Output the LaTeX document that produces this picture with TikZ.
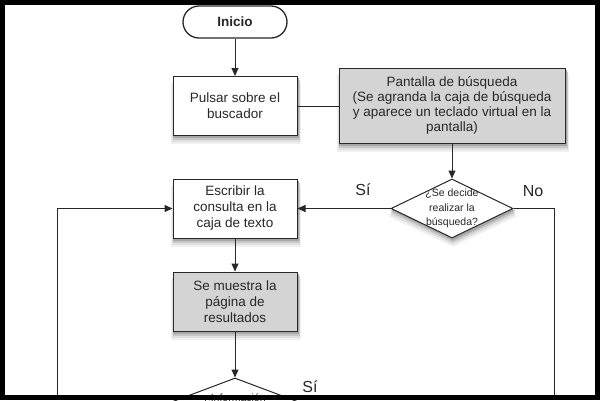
\documentclass[tikz,border=0pt]{standalone}
\usepackage{fontspec}
\setmainfont{Liberation Sans}
\usetikzlibrary{shapes.geometric,arrows.meta,backgrounds}
\definecolor{boxgray}{RGB}{212,212,212}
\definecolor{inkc}{RGB}{40,40,40}
\begin{document}
\begin{tikzpicture}[x=1pt,y=-1pt,
  every node/.style={font=\fontsize{13.5}{16}\selectfont, text=inkc},
  proc/.style={draw=inkc, line width=1pt, fill=white, minimum width=124pt, minimum height=59pt, align=center, inner sep=2pt},
  grayproc/.style={proc, fill=boxgray},
  term/.style={draw=inkc, line width=1.3pt, fill=white, rounded corners=16pt, minimum width=104pt, minimum height=32pt, font=\bfseries\fontsize{13.5}{16}\selectfont},
  decision/.style={diamond, draw=inkc, line width=1pt, fill=white, minimum width=122pt, minimum height=59pt, inner sep=0pt},
  dtext/.style={font=\fontsize{10.5}{14.5}\selectfont, align=center},
  lbl/.style={font=\fontsize{16}{18}\selectfont},
  conn/.style={draw=inkc, line width=1pt},
  arr/.style={conn, -{Triangle[length=8pt,width=7pt]}},
]
\useasboundingbox (0,0) rectangle (600,400);
\begin{scope}
\clip (0,0) rectangle (600,400);
% nodes
\node[term] (inicio) at (235,22) {Inicio};
\node[proc] (pulsar) at (235,106) {Pulsar sobre el\\buscador};
\node[grayproc, minimum width=226pt, minimum height=75pt, font=\fontsize{13.5}{15}\selectfont] (pantalla) at (452,105.5)
  {Pantalla de búsqueda\\(Se agranda la caja de búsqueda\\y aparece un teclado virtual en la\\pantalla)};
\node[decision] (d1) at (452,208.5) {};
\node[dtext] (d1t) at (d1.center) {¿Se decide\\realizar la\\búsqueda?};
\node[proc] (escribir) at (235,208.5) {Escribir la\\consulta en la\\caja de texto};
\node[grayproc] (muestra) at (235,301.5) {Se muestra la\\página de\\resultados};
\node[decision, minimum width=170pt, minimum height=64pt] (d2) at (235,410) {};
\node[dtext, anchor=base] (d2t) at (235,401.5) {¿Información};
% labels
\node[lbl] (si1) at (363,190) {Sí};
\node[lbl] (no1) at (533,191) {No};
\node[lbl] (si2) at (310,387) {Sí};
% coordinates for free ends
\coordinate (rbot) at (554,400);
\coordinate (lbot) at (57,400);
% connectors
\draw[arr] (inicio) -- (pulsar);
\draw[conn] (pulsar.east) -- (pulsar.east -| pantalla.west);
\draw[arr] (pantalla.south) -- (d1.north);
\draw[arr] (d1.west) -- (escribir.east |- d1.west);
\draw[conn] (d1.east) -| (rbot);
\draw[arr] (lbot) |- (escribir.west);
\draw[arr] (escribir) -- (muestra);
\draw[arr] (muestra) -- (d2.north);
\end{scope}
% soft shadows behind boxes
\begin{pgfonlayer}{background}
\fill[white] (0,0) rectangle (600,400);
\foreach \n in {pulsar,pantalla,escribir,muestra} {
  \fill[black!6]  ([xshift=-2pt,yshift=-8pt]\n.south west) rectangle ([xshift=3pt,yshift=-8pt]\n.north east);
  \fill[black!12] ([xshift=-1pt,yshift=-6pt]\n.south west) rectangle ([xshift=2.5pt,yshift=-6pt]\n.north east);
  \fill[black!22] ([xshift=0pt,yshift=-4pt]\n.south west) rectangle ([xshift=2pt,yshift=-4pt]\n.north east);
  \fill[black!34] ([xshift=0.5pt,yshift=-2pt]\n.south west) rectangle ([xshift=1.5pt,yshift=-2pt]\n.north east);
}
\foreach \n in {d1,d2} {
  \fill[black!6]  ([xshift=1pt,yshift=-8pt]\n.north) -- ([xshift=3pt,yshift=-8pt]\n.east) -- ([xshift=1pt,yshift=-8pt]\n.south) -- ([xshift=-2pt,yshift=-8pt]\n.west) -- cycle;
  \fill[black!12] ([xshift=1pt,yshift=-6pt]\n.north) -- ([xshift=2.5pt,yshift=-6pt]\n.east) -- ([xshift=1pt,yshift=-6pt]\n.south) -- ([xshift=-1pt,yshift=-6pt]\n.west) -- cycle;
  \fill[black!22] ([xshift=1pt,yshift=-4pt]\n.north) -- ([xshift=2pt,yshift=-4pt]\n.east) -- ([xshift=1pt,yshift=-4pt]\n.south) -- ([xshift=0pt,yshift=-4pt]\n.west) -- cycle;
  \fill[black!34] ([xshift=1pt,yshift=-2pt]\n.north) -- ([xshift=1.5pt,yshift=-2pt]\n.east) -- ([xshift=1pt,yshift=-2pt]\n.south) -- ([xshift=0.5pt,yshift=-2pt]\n.west) -- cycle;
}
\end{pgfonlayer}
% frame
\draw[line width=5pt, black] (2.5,2.5) rectangle (597.5,397.5);
\end{tikzpicture}
\end{document}
